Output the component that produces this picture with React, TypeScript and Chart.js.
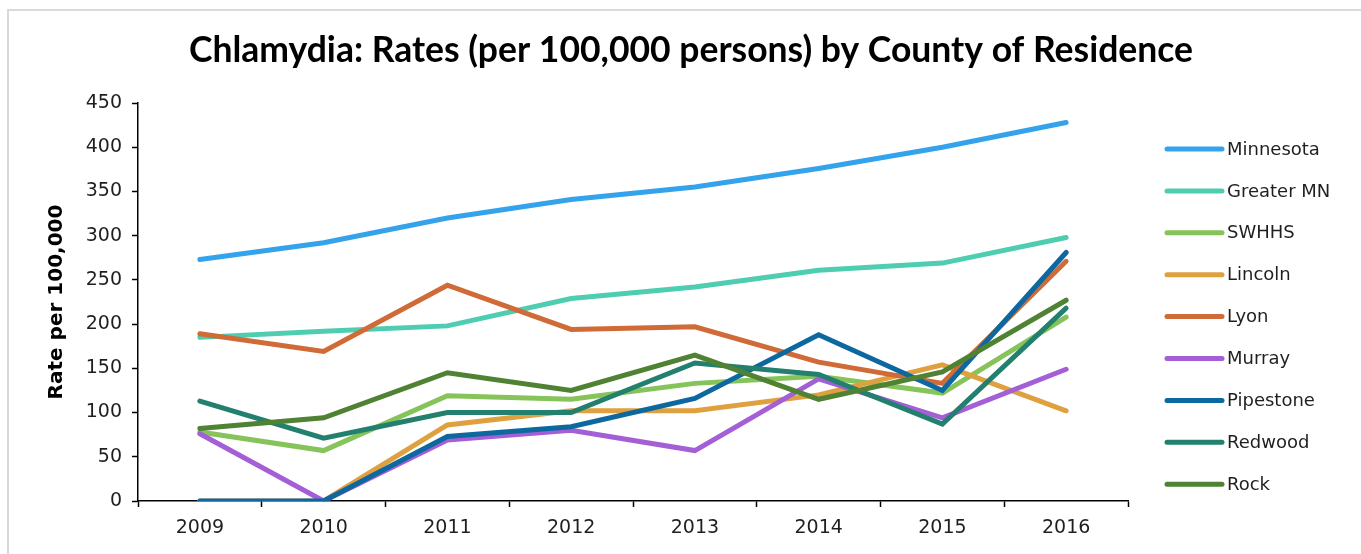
import React, { useEffect, useRef } from "react";
import { Chart, registerables } from "chart.js";

Chart.register(...registerables);

// Reporting years along the x axis
const years = ["2009", "2010", "2011", "2012", "2013", "2014", "2015", "2016"];

// Chlamydia rates per 100,000 persons
const minnesota = [273, 292, 320, 341, 355, 376, 400, 428];
const greaterMN = [185, 192, 198, 229, 242, 261, 269, 298];
const swhhs = [78, 57, 119, 115, 133, 141, 122, 208];
const lincoln = [0, 0, 86, 102, 102, 120, 154, 102];
const lyon = [189, 169, 244, 194, 197, 157, 133, 271];
const murray = [76, 0, 69, 80, 57, 138, 94, 149];
const pipestone = [0, 0, 73, 84, 116, 188, 125, 281];
const redwood = [113, 71, 100, 100, 156, 143, 87, 218];
const rock = [82, 94, 145, 125, 165, 115, 146, 227];

const seriesNames = [
  "Minnesota",
  "Greater MN",
  "SWHHS",
  "Lincoln",
  "Lyon",
  "Murray",
  "Pipestone",
  "Redwood",
  "Rock",
];
const seriesValues = [minnesota, greaterMN, swhhs, lincoln, lyon, murray, pipestone, redwood, rock];
const seriesColors = [
  "#35A3EC",
  "#4ECDB0",
  "#86C35A",
  "#DFA03F",
  "#D06A36",
  "#A45ED6",
  "#0E68A0",
  "#23806E",
  "#4F8232",
];

const titleText = "Chlamydia: Rates (per 100,000 persons) by County of Residence";
const yAxisTitle = "Rate per 100,000";

const FONT = "'DejaVu Sans', sans-serif";
const TITLE_FONT = "Lato, 'DejaVu Sans', sans-serif";
const TEXT_COLOR = "#1f1f1f";

// Title across the top and a line legend in a column on the right
const decorations = {
  id: "decorations",
  afterDraw(chart: any) {
    const { ctx, chartArea } = chart;
    ctx.save();
    ctx.fillStyle = "#000";
    ctx.font = `bold 35.5px ${TITLE_FONT}`;
    ctx.textAlign = "center";
    ctx.textBaseline = "alphabetic";
    ctx.fillText(titleText, 691, 62);

    const x0 = chartArea.right + 39;
    const lineLen = 55;
    const top = 149;
    const step = 41.9;
    ctx.font = `18px ${FONT}`;
    ctx.textAlign = "left";
    ctx.textBaseline = "middle";
    chart.data.datasets.forEach((ds: any, i: number) => {
      const y = top + i * step;
      ctx.strokeStyle = ds.borderColor;
      ctx.lineWidth = 5;
      ctx.lineCap = "round";
      ctx.beginPath();
      ctx.moveTo(x0, y);
      ctx.lineTo(x0 + lineLen, y);
      ctx.stroke();
      ctx.fillStyle = TEXT_COLOR;
      ctx.fillText(ds.label, x0 + lineLen + 5, y + 1);
    });
    ctx.restore();
  },
};

export default function App() {
  const canvasRef = useRef<HTMLCanvasElement | null>(null);

  useEffect(() => {
    const canvas = canvasRef.current;
    if (!canvas) return;
    const chart = new Chart(canvas, {
      type: "line",
      data: {
        labels: years,
        datasets: seriesNames.map((name, i) => ({
          label: name,
          data: seriesValues[i],
          borderColor: seriesColors[i],
          backgroundColor: seriesColors[i],
          borderWidth: 5,
          borderCapStyle: "round",
          borderJoinStyle: "miter",
          pointRadius: 0,
          pointHoverRadius: 0,
          tension: 0,
          fill: false,
          order: -i,
        })),
      },
      options: {
        responsive: false,
        animation: false,
        events: [],
        layout: { padding: { left: 0, top: 103, right: 233, bottom: 13 } },
        plugins: {
          legend: { display: false },
          title: { display: false },
          tooltip: { enabled: false },
        },
        scales: {
          x: {
            type: "category",
            offset: true,
            grid: {
              offset: true,
              drawOnChartArea: false,
              drawTicks: true,
              tickLength: 6,
              tickColor: "#000",
              tickWidth: 1.5,
            },
            border: { display: true, color: "#000", width: 1.5 },
            ticks: {
              color: TEXT_COLOR,
              font: { family: FONT, size: 19 },
              padding: 10,
              maxRotation: 0,
            },
            afterFit: (s: any) => {
              s.height = 40;
            },
          },
          y: {
            min: 0,
            max: 450,
            ticks: {
              stepSize: 50,
              color: TEXT_COLOR,
              font: { family: FONT, size: 19 },
              padding: 10,
            },
            grid: {
              drawOnChartArea: false,
              drawTicks: true,
              tickLength: 6,
              tickColor: "#000",
              tickWidth: 1.5,
            },
            border: { display: true, color: "#000", width: 1.5 },
            title: {
              display: true,
              text: yAxisTitle,
              color: "#000",
              font: { family: FONT, size: 20, weight: "bold" },
              padding: { top: 45, bottom: 0 },
            },
            afterFit: (s: any) => {
              s.width = 138;
            },
          },
        },
      },
      plugins: [decorations],
    });
    return () => chart.destroy();
  }, []);

  return (
    <div style={{ position: "fixed", left: 0, top: 0, width: 1361, height: 554, background: "#fff", overflow: "hidden" }}>
      <div
        style={{
          position: "absolute",
          left: 7,
          top: 9,
          width: 1400,
          height: 600,
          borderLeft: "2px solid #d9d9d9",
          borderTop: "2px solid #d9d9d9",
        }}
      />
      <canvas ref={canvasRef} width={1361} height={554} style={{ position: "absolute", left: 0, top: 0 }} />
    </div>
  );
}
